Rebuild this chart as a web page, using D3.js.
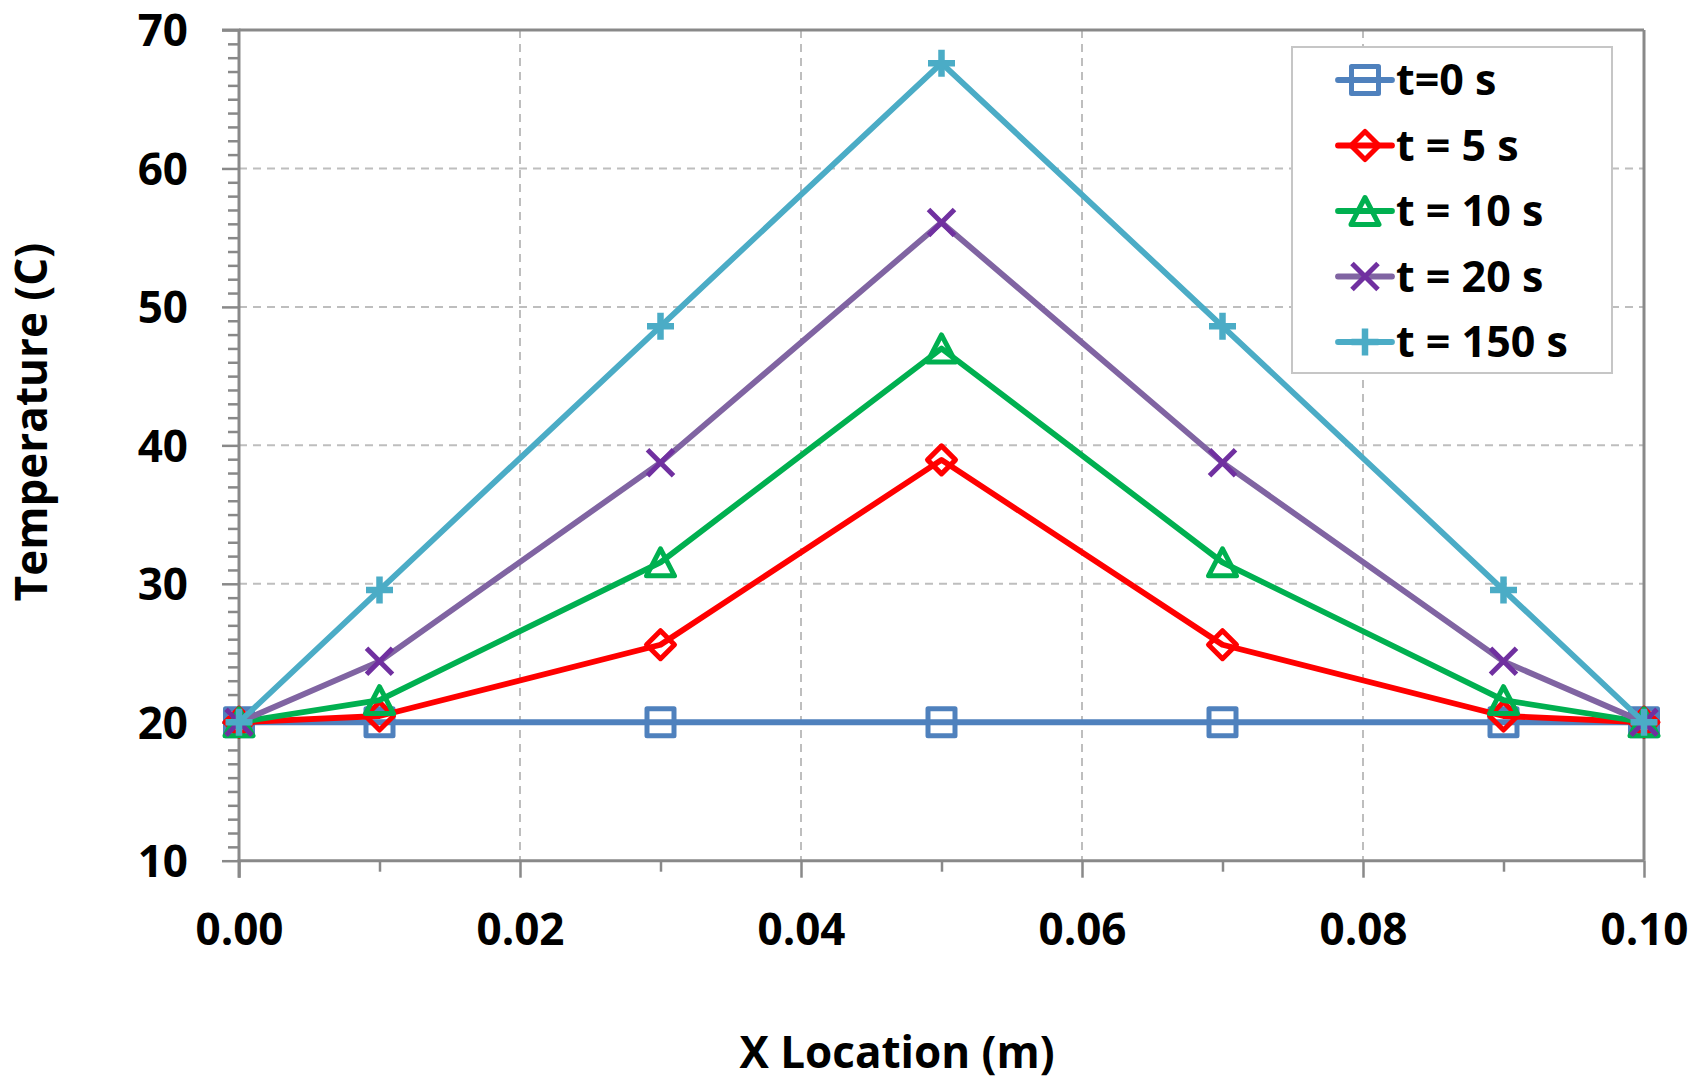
<!DOCTYPE html>
<html>
<head>
<meta charset="utf-8">
<script src="https://cdn.jsdelivr.net/npm/d3@7/dist/d3.min.js"></script>
<style>
  html, body { margin: 0; padding: 0; background: #ffffff; }
  svg { display: block; }
  text { font-family: "Open Sans", "Noto Sans", sans-serif; font-weight: bold; fill: #000; }
</style>
</head>
<body>
<svg id="chart" width="1707" height="1081"></svg>
<script>
// ---- data ----
const xLocations = [0.00, 0.01, 0.03, 0.05, 0.07, 0.09, 0.10];
const seriesNames = ["t=0 s", "t = 5 s", "t = 10 s", "t = 20 s", "t = 150 s"];
const temp_t0   = [20, 20, 20, 20, 20, 20, 20];
const temp_t5   = [20, 20.45, 25.6, 38.95, 25.6, 20.45, 20];
const temp_t10  = [20, 21.6, 31.55, 47.0, 31.55, 21.6, 20];
const temp_t20  = [20, 24.4, 38.75, 56.1, 38.75, 24.4, 20];
const temp_t150 = [20, 29.55, 48.6, 67.6, 48.6, 29.55, 20];
const xTickLabels = ["0.00", "0.02", "0.04", "0.06", "0.08", "0.10"];
const yTickLabels = ["10", "20", "30", "40", "50", "60", "70"];

// ---- styles ----
const lineColors   = ["#4F81BD", "#FF0000", "#00B050", "#8064A2", "#4BACC6"];
const markerColors = ["#4F81BD", "#FF0000", "#00B050", "#7030A0", "#4BACC6"];
const markerTypes  = ["square", "diamond", "triangle", "x", "plus"];
const allSeries = [temp_t0, temp_t5, temp_t10, temp_t20, temp_t150];

const svg = d3.select("#chart");
const pLeft = 239, pRight = 1644, pTop = 30, pBottom = 860.7;

const x = d3.scaleLinear().domain([0, 0.1]).range([pLeft, pRight]);
const y = d3.scaleLinear().domain([10, 70]).range([pBottom, pTop]);

const axisColor = "#898989";
const gridColor = "#BEBEBE";

// gridlines
const gy = svg.append("g");
[20, 30, 40, 50, 60].forEach(v => {
  gy.append("line").attr("x1", pLeft).attr("x2", pRight).attr("y1", y(v)).attr("y2", y(v))
    .attr("stroke", gridColor).attr("stroke-width", 2).attr("stroke-dasharray", "8,6");
});
[0.02, 0.04, 0.06, 0.08].forEach(v => {
  gy.append("line").attr("x1", x(v)).attr("x2", x(v)).attr("y1", pTop).attr("y2", pBottom)
    .attr("stroke", gridColor).attr("stroke-width", 2).attr("stroke-dasharray", "8,6");
});

// frame top/right
svg.append("line").attr("x1", pLeft).attr("x2", pRight).attr("y1", pTop).attr("y2", pTop)
  .attr("stroke", axisColor).attr("stroke-width", 3);
svg.append("line").attr("x1", pRight).attr("x2", pRight).attr("y1", pTop).attr("y2", pBottom)
  .attr("stroke", axisColor).attr("stroke-width", 3);

// y axis
const yAxis = d3.axisLeft(y).tickValues(yTickLabels.map(Number)).tickSize(17).tickPadding(34)
  .tickFormat((d, i) => yTickLabels[i]);
const yg = svg.append("g").attr("transform", `translate(${pLeft},0)`).call(yAxis);
const yMinor = d3.range(10, 71, 1).filter(v => v % 10 !== 0);
svg.append("g").attr("transform", `translate(${pLeft},0)`).call(
  d3.axisLeft(y).tickValues(yMinor).tickSize(11).tickFormat("")
).call(g => g.select(".domain").remove());

// x axis
const xAxis = d3.axisBottom(x).tickValues(xTickLabels.map(Number)).tickSize(17).tickPadding(36)
  .tickFormat((d, i) => xTickLabels[i]);
const xg = svg.append("g").attr("transform", `translate(0,${pBottom})`).call(xAxis);
const xMinor = [0.01, 0.03, 0.05, 0.07, 0.09];
svg.append("g").attr("transform", `translate(0,${pBottom})`).call(
  d3.axisBottom(x).tickValues(xMinor).tickSize(11).tickFormat("")
).call(g => g.select(".domain").remove());

svg.selectAll(".domain").attr("stroke", axisColor).attr("stroke-width", 3);
svg.selectAll(".tick line").attr("stroke", axisColor).attr("stroke-width", 2.5);
svg.selectAll(".tick text").style("font-family", "'Open Sans', sans-serif")
  .style("font-weight", "bold").style("font-size", "44px").attr("fill", "#000");
yg.selectAll(".tick text").attr("dy", "0.36em");
xg.selectAll(".tick text").attr("dy", "0.71em");
yg.select(".domain").attr("d", `M-17,${pTop}H0V${pBottom}`);
xg.select(".domain").attr("d", `M${pLeft},17V0H${pRight}`);

// markers
function markerPath(type, cx, cy) {
  const p = d3.path();
  if (type === "square") {
    const h = 13.5; p.rect(cx - h, cy - h, 2 * h, 2 * h);
  } else if (type === "diamond") {
    const h = 14; p.moveTo(cx, cy - h); p.lineTo(cx + h, cy); p.lineTo(cx, cy + h); p.lineTo(cx - h, cy); p.closePath();
  } else if (type === "triangle") {
    const w = 14, hh = 13.5; p.moveTo(cx, cy - hh); p.lineTo(cx + w, cy + hh); p.lineTo(cx - w, cy + hh); p.closePath();
  } else if (type === "x") {
    const h = 13; p.moveTo(cx - h, cy - h); p.lineTo(cx + h, cy + h); p.moveTo(cx + h, cy - h); p.lineTo(cx - h, cy + h);
  } else if (type === "plus") {
    const h = 13.5; p.moveTo(cx - h, cy); p.lineTo(cx + h, cy); p.moveTo(cx, cy - h); p.lineTo(cx, cy + h);
  }
  return p.toString();
}
const markerWidth = { square: 5, diamond: 5, triangle: 5, x: 5, plus: 6.5 };

const line = d3.line().x(d => x(d[0])).y(d => y(d[1]));

allSeries.forEach((vals, si) => {
  const pts = xLocations.map((xv, i) => [xv, vals[i]]);
  const g = svg.append("g");
  g.append("path").attr("d", line(pts)).attr("fill", "none")
    .attr("stroke", lineColors[si]).attr("stroke-width", 5.8).attr("stroke-linejoin", "round");
  g.selectAll("path.m").data(pts).enter().append("path").attr("class", "m")
    .attr("d", d => markerPath(markerTypes[si], x(d[0]), y(d[1])))
    .attr("fill", "none").attr("stroke", markerColors[si])
    .attr("stroke-width", markerWidth[markerTypes[si]]).attr("stroke-linejoin", "round");
});

// legend
const lg = svg.append("g");
lg.append("rect").attr("x", 1292).attr("y", 47).attr("width", 320).attr("height", 326)
  .attr("fill", "#fff").attr("stroke", "#C6C6C6").attr("stroke-width", 2);
seriesNames.forEach((name, i) => {
  const cy = 80 + i * 65.5;
  lg.append("line").attr("x1", 1338).attr("x2", 1392).attr("y1", cy).attr("y2", cy)
    .attr("stroke", lineColors[i]).attr("stroke-width", 5.8).attr("stroke-linecap", "round");
  lg.append("path").attr("d", markerPath(markerTypes[i], 1365, cy))
    .attr("fill", "none").attr("stroke", markerColors[i])
    .attr("stroke-width", markerWidth[markerTypes[i]]).attr("stroke-linejoin", "round");
  lg.append("text").attr("x", 1396).attr("y", cy).attr("dy", "0.36em")
    .style("font-size", "43px").text(name);
});

// axis titles
svg.append("text").attr("x", 897).attr("y", 1068).attr("text-anchor", "middle")
  .style("font-size", "44px").text("X Location (m)");
svg.append("text").attr("transform", "translate(47,422) rotate(-90)").attr("text-anchor", "middle")
  .style("font-size", "44px").text("Temperature (C)");
</script>
</body>
</html>
